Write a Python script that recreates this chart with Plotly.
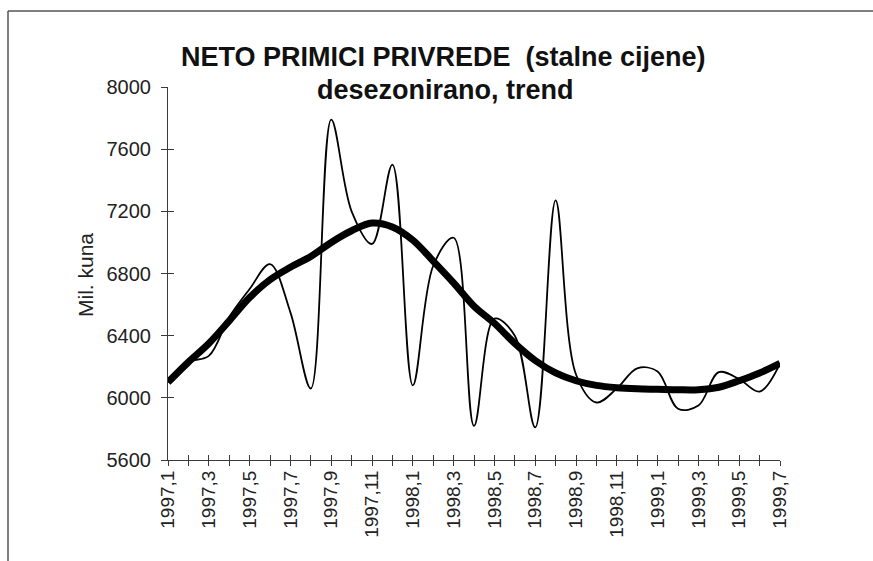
import plotly.graph_objects as go

# ---- data ----
periods = ["1997,1", "1997,2", "1997,3", "1997,4", "1997,5", "1997,6", "1997,7", "1997,8",
           "1997,9", "1997,10", "1997,11", "1997,12", "1998,1", "1998,2", "1998,3", "1998,4",
           "1998,5", "1998,6", "1998,7", "1998,8", "1998,9", "1998,10", "1998,11", "1998,12",
           "1999,1", "1999,2", "1999,3", "1999,4", "1999,5", "1999,6", "1999,7"]
desezonirano = [6100, 6230, 6270, 6520, 6700, 6860, 6550, 6060, 7790, 7200, 6990, 7500,
                6080, 6850, 7030, 5820, 6510, 6400, 5810, 7270, 6150, 5970, 6060, 6190,
                6170, 5930, 5950, 6165, 6120, 6040, 6220]
trend = [6100, 6230, 6350, 6495, 6645, 6760, 6840, 6910, 7000, 7075, 7125, 7100,
         7015, 6880, 6740, 6590, 6480, 6350, 6240, 6160, 6110, 6080, 6065, 6058,
         6055, 6052, 6052, 6068, 6110, 6160, 6222]
y_ticks = [5600, 6000, 6400, 6800, 7200, 7600, 8000]
x_labels = [p if i % 2 == 0 else "" for i, p in enumerate(periods)]

FONT = "Liberation Sans, Arial, sans-serif"
AXC = "#3a3a3a"

fig = go.Figure()
fig.add_trace(go.Scatter(x=periods, y=desezonirano, mode="lines",
                         line=dict(color="black", width=1.8, shape="spline", smoothing=1.0),
                         showlegend=False, hoverinfo="skip"))
fig.add_trace(go.Scatter(x=periods, y=trend, mode="lines",
                         line=dict(color="black", width=7, shape="spline", smoothing=1.0),
                         showlegend=False, hoverinfo="skip"))
# invisible helper trace to get inward half of crossing ticks
fig.add_trace(go.Scatter(x=periods, y=trend, xaxis="x2", yaxis="y2", mode="lines",
                         line=dict(color="rgba(0,0,0,0)", width=0),
                         showlegend=False, hoverinfo="skip"))

fig.update_layout(
    width=873, height=561,
    margin=dict(l=168, r=93, t=87, b=101),
    paper_bgcolor="white", plot_bgcolor="white",
    font=dict(family=FONT, color="#222"),
    xaxis=dict(type="category", range=[0, len(periods) - 1], showgrid=False, zeroline=False,
               showline=True, linecolor=AXC, linewidth=1,
               tickmode="array", tickvals=periods, ticktext=x_labels, tickangle=-90,
               ticks="outside", ticklen=5, tickcolor=AXC, tickwidth=1,
               ticklabelstandoff=-3,
               tickfont=dict(size=19, family=FONT, color="#222")),
    yaxis=dict(range=[5600, 8000], showgrid=False, zeroline=False,
               showline=True, linecolor=AXC, linewidth=1,
               tickmode="array", tickvals=y_ticks,
               ticks="outside", ticklen=6, tickcolor=AXC, tickwidth=1,
               ticklabelstandoff=6,
               tickfont=dict(size=20, family=FONT, color="#222")),
    xaxis2=dict(type="category", overlaying="x", anchor="y2", range=[0, len(periods) - 1],
                showgrid=False, zeroline=False, showline=False,
                tickmode="array", tickvals=periods, showticklabels=False,
                ticks="inside", ticklen=5, tickcolor=AXC, tickwidth=1),
    yaxis2=dict(overlaying="y", anchor="x2", range=[5600, 8000], showgrid=False,
                zeroline=False, showline=False, tickmode="array", tickvals=y_ticks,
                showticklabels=False, ticks="inside", ticklen=6, tickcolor=AXC, tickwidth=1),
    annotations=[
        dict(text="<b>NETO PRIMICI PRIVREDE&nbsp; (stalne cijene)</b>", xref="paper", yref="paper",
             x=(443 - 168) / 612, y=(460 - 57) / 373, xanchor="center", yanchor="middle",
             showarrow=False, font=dict(size=27, family=FONT, color="#111")),
        dict(text="<b>desezonirano, trend</b>", xref="paper", yref="paper",
             x=(445 - 168) / 612, y=(460 - 90) / 373, xanchor="center", yanchor="middle",
             showarrow=False, font=dict(size=27, family=FONT, color="#111")),
        dict(text="Mil. kuna", xref="paper", yref="paper",
             x=(85 - 168) / 612, y=(460 - 275) / 373, xanchor="center", yanchor="middle",
             textangle=-90, showarrow=False, font=dict(size=21, family=FONT, color="#222")),
    ],
    shapes=[
        dict(type="line", xref="paper", yref="paper", x0=(8 - 168) / 612, x1=(873 - 168) / 612,
             y0=(460 - 11) / 373, y1=(460 - 11) / 373, line=dict(color="#555", width=1.5)),
        dict(type="line", xref="paper", yref="paper", x0=(8 - 168) / 612, x1=(8 - 168) / 612,
             y0=(460 - 11) / 373, y1=(460 - 561) / 373, line=dict(color="#555", width=1.5)),
    ],
)

fig.write_html("out.html", config={"displayModeBar": False},
               post_script="document.body.style.margin='0px';document.body.style.overflow='hidden';")
